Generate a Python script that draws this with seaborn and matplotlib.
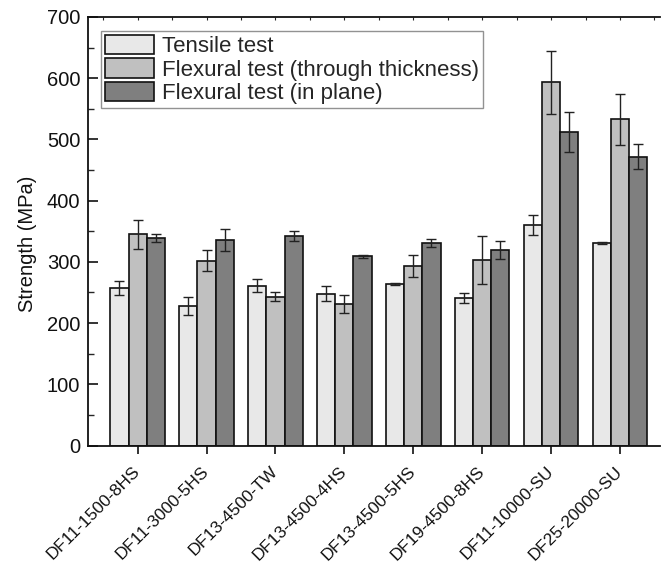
import matplotlib
matplotlib.use("Agg")
import matplotlib.pyplot as plt
import seaborn as sns
import pandas as pd
import numpy as np
from matplotlib.ticker import MultipleLocator

categories = ["DF11-1500-8HS", "DF11-3000-5HS", "DF13-4500-TW", "DF13-4500-4HS",
              "DF13-4500-5HS", "DF19-4500-8HS", "DF11-10000-SU", "DF25-20000-SU"]
series = ["Tensile test", "Flexural test (through thickness)", "Flexural test (in plane)"]

tensile = [257, 228, 261, 248, 264, 241, 360, 331]
tensile_err = [11, 15, 11, 12, 2, 8, 16, 2]
flex_through = [345, 302, 243, 231, 293, 303, 593, 533]
flex_through_err = [24, 17, 7, 15, 18, 39, 52, 42]
flex_inplane = [339, 335, 342, 309, 331, 319, 512, 472]
flex_inplane_err = [6, 18, 8, 2, 7, 15, 33, 20]

colors = ["#e8e8e8", "#c0c0c0", "#7f7f7f"]

values = [tensile, flex_through, flex_inplane]
errors = [tensile_err, flex_through_err, flex_inplane_err]
rows = []
for s, vals, errs in zip(series, values, errors):
    for c, v, e in zip(categories, vals, errs):
        rows.append({"Sample": c, "Test": s, "Strength": v, "Err": e})
df = pd.DataFrame(rows)

sns.set_theme(style="white")
plt.rcParams["font.family"] = ["Liberation Sans", "DejaVu Sans"]

fig = plt.figure(figsize=(6.61, 5.63), dpi=100)
ax = fig.add_axes([88/661, 1-445.5/563, 572/661, (445.5-17)/563])

sns.barplot(data=df, x="Sample", y="Strength", hue="Test", order=categories,
            hue_order=series, palette=colors, errorbar=None, width=0.79,
            edgecolor="#111111", linewidth=1.2, saturation=1, ax=ax)

for cont, errs in zip(ax.containers, errors):
    xs = [p.get_x() + p.get_width()/2 for p in cont]
    hs = [p.get_height() for p in cont]
    ax.errorbar(xs, hs, yerr=errs, fmt="none", ecolor="#222222", elinewidth=1.0,
                capsize=3.3, capthick=1.0, zorder=5)

ax.set_ylim(0, 700)
ax.set_xlim(-0.72, 7.58)
ax.yaxis.set_major_locator(MultipleLocator(100))
ax.yaxis.set_minor_locator(MultipleLocator(50))
ax.set_xlabel("")
ax.set_ylabel("Strength (MPa)", fontsize=14.5, color="#111111")
ax.yaxis.set_label_coords(-0.09, 0.47)
ax.tick_params(axis="y", which="major", direction="in", length=7, width=1.2,
               left=True, labelsize=14.5, colors="#111111", pad=5.5)
ax.tick_params(axis="y", which="minor", direction="in", length=4, width=1.0, left=True)
ax.tick_params(axis="x", which="major", direction="out", length=6, width=1.2,
               bottom=True, labelsize=12.4, colors="#111111", pad=11)
ax.set_xticks(range(len(categories)))
ax.set_xticklabels(categories, rotation=45, ha="right", va="center", rotation_mode="anchor")

for side in ["left", "bottom", "top"]:
    ax.spines[side].set_visible(True)
    ax.spines[side].set_color("#111111")
    ax.spines[side].set_linewidth(1.3)
ax.spines["right"].set_visible(False)

sec = ax.secondary_xaxis("top")
sec.set_xticks(np.arange(-0.5, 8.0, 0.5))
sec.tick_params(axis="x", direction="in", length=2.5, width=0.8, labeltop=False, top=True)
sec.spines["top"].set_visible(False)

leg = ax.legend(loc="upper left", bbox_to_anchor=(0.022, 0.968), frameon=True,
                fontsize=16, handlelength=2.2, handleheight=0.95, handletextpad=0.36,
                labelspacing=0.05, borderpad=0.2, fancybox=False, borderaxespad=0)
leg.get_frame().set_edgecolor("#777777")
leg.get_frame().set_linewidth(1.0)
for h in leg.legend_handles:
    h.set_edgecolor("#111111")
    h.set_linewidth(1.2)

fig.savefig("out.png", dpi=100)
